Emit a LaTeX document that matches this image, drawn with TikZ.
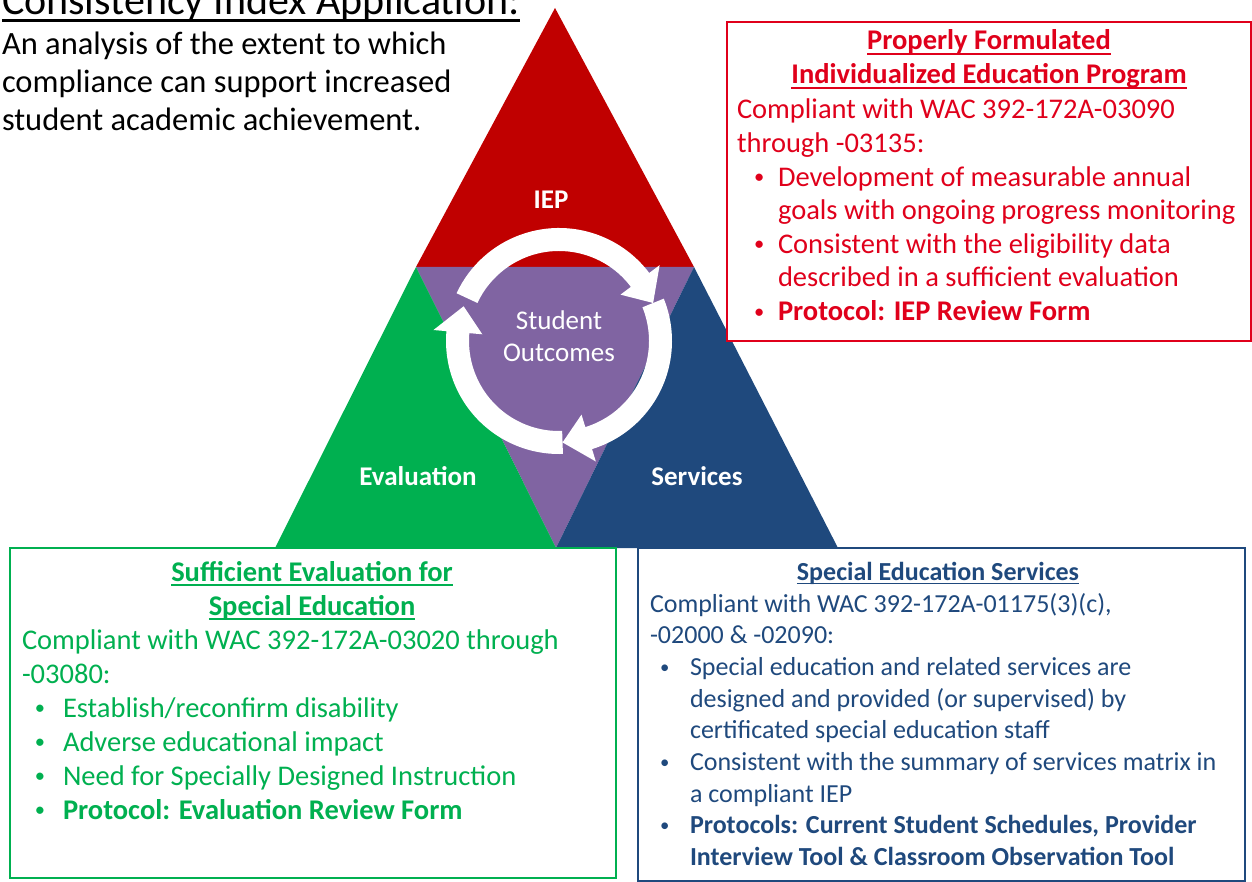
\documentclass[tikz,border=0pt]{standalone}
\usepackage{fontspec}
\setmainfont{Carlito}
\usepackage{tikz}
\usetikzlibrary{
  calc
}

\definecolor{iepred}{HTML}{C00000}
\definecolor{evalgreen}{HTML}{00B050}
\definecolor{servblue}{HTML}{1F497D}
\definecolor{outpurple}{HTML}{8064A2}
\definecolor{boxred}{HTML}{E0001B}

% underline with a rule of our own
\newcommand{\undl}[1]{\setbox0=\hbox{#1}\rlap{\rule[-0.16em]{\wd0}{0.06em}}\box0}
% bullet: space before, width of bullet box
\newcommand{\blt}[2]{\hspace*{#1}\makebox[#2][l]{\raisebox{0.09em}{\fontsize{0.72em}{1em}\selectfont\textbullet}}}

\begin{document}
\begin{tikzpicture}[x=1pt,y=-1pt,
    every node/.style={inner sep=0pt, outer sep=0pt},
    seglabel/.style={text=white, font=\fontsize{27}{32}\selectfont\bfseries}]
      \useasboundingbox (0,0) rectangle (1252,882);

      % pyramid
      \coordinate (A) at (555,8);
      \coordinate (ML) at (416,267);
      \coordinate (MR) at (694,267);
      \coordinate (BL) at (275,548);
      \coordinate (BM) at (556,548);
      \coordinate (BR) at (838,548);
      \fill [iepred] (A) -- (ML) -- (MR) -- cycle;
      \fill [outpurple] (ML) -- (MR) -- (BM) -- cycle;
      \fill [evalgreen] (ML) -- (BM) -- (BL) -- cycle;
      \fill [servblue] (MR) -- (BR) -- (BM) -- cycle;

      % circular arrows
      \begin{scope}[shift={(559,341)}, y=1pt]
        \foreach \s/\b in {155/37, 22/-73, -88/-185}
          \fill [white] (\s:113) arc [start angle=\s, end angle=\b, radius=113]
            -- (\b:126) -- (\b-15:101.5) -- (\b:77) -- (\b:90)
            arc [start angle=\b, end angle=\s, radius=90] -- cycle;
      \end{scope}

      \node [seglabel] (iep) at (551,200) {IEP};
      \node [seglabel] (eval) at (418,476) {Evaluation};
      \node [seglabel] (serv) at (697,476) {Services};
      \node [text=white, align=center,
        font=\fontsize{27}{32}\selectfont] (outc) at (559,336) {Student\\Outcomes};

      % title (base anchor = last line)
      \node [anchor=base west, font=\fontsize{42}{50}\selectfont] (title)
        at (2,15) {\undl{Consistency Index Application:}};
      \node [anchor=base west, align=left, font=\fontsize{32.5}{38}\selectfont] (intro)
        at (2,131) {An analysis of the extent to which\\compliance can support increased\\student academic achievement.};

      % IEP box
      \draw [boxred, line width=2pt, fill=white] (727,22) rectangle (1251,341);
      \node [anchor=base, align=center, text=boxred,
        font=\fontsize{28.5}{34}\selectfont\bfseries] (iephead)
        at (989,84) {\undl{Properly Formulated}\\\undl{Individualized Education Program}};
      \node [anchor=base west, align=left, text=boxred,
        font=\fontsize{28.5}{33.6}\selectfont] (iepbody)
        at (737,320.6) {Compliant with WAC 392-172A-03090\\
          through -03135:\\
          \blt{17pt}{24pt}Development of measurable annual\\
          \hspace*{41pt}goals with ongoing progress monitoring\\
          \blt{17pt}{24pt}Consistent with the eligibility data\\
          \hspace*{41pt}described in a sufficient evaluation\\
          \blt{17pt}{24pt}\textbf{Protocol: IEP Review Form}};

      % evaluation box
      \draw [evalgreen, line width=2pt, fill=white] (10,548) rectangle (616,878);
      \node [anchor=base, align=center, text=evalgreen,
        font=\fontsize{28.5}{34}\selectfont\bfseries] (evalhead)
        at (312,615) {\undl{Sufficient Evaluation for}\\\undl{Special Education}};
      \node [anchor=base west, align=left, text=evalgreen,
        font=\fontsize{28.5}{34}\selectfont] (evalbody)
        at (22,819) {Compliant with WAC 392-172A-03020 through\\
          -03080:\\
          \blt{13pt}{28pt}Establish/reconfirm disability\\
          \blt{13pt}{28pt}Adverse educational impact\\
          \blt{13pt}{28pt}Need for Specially Designed Instruction\\
          \blt{13pt}{28pt}\textbf{Protocol: Evaluation Review Form}};

      % services box
      \draw [servblue, line width=1.5pt, fill=white] (638,548) rectangle (1245,881);
      \node [anchor=base, text=servblue,
        font=\fontsize{26}{31.7}\selectfont\bfseries] (servhead)
        at (938,580) {\undl{Special Education Services}};
      \node [anchor=base west, align=left, text=servblue,
        font=\fontsize{26}{31.7}\selectfont] (servbody)
        at (650,865.6) {Compliant with WAC 392-172A-01175(3)(c),\\
          -02000 \& -02090:\\
          \blt{10pt}{30pt}Special education and related services are\\
          \hspace*{40pt}designed and provided (or supervised) by\\
          \hspace*{40pt}certificated special education staff\\
          \blt{10pt}{30pt}Consistent with the summary of services matrix in\\
          \hspace*{40pt}a compliant IEP\\
          \blt{10pt}{30pt}\textbf{Protocols: Current Student Schedules, Provider}\\
          \hspace*{40pt}\textbf{Interview Tool \& Classroom Observation Tool}};

    \end{tikzpicture}
\end{document}
